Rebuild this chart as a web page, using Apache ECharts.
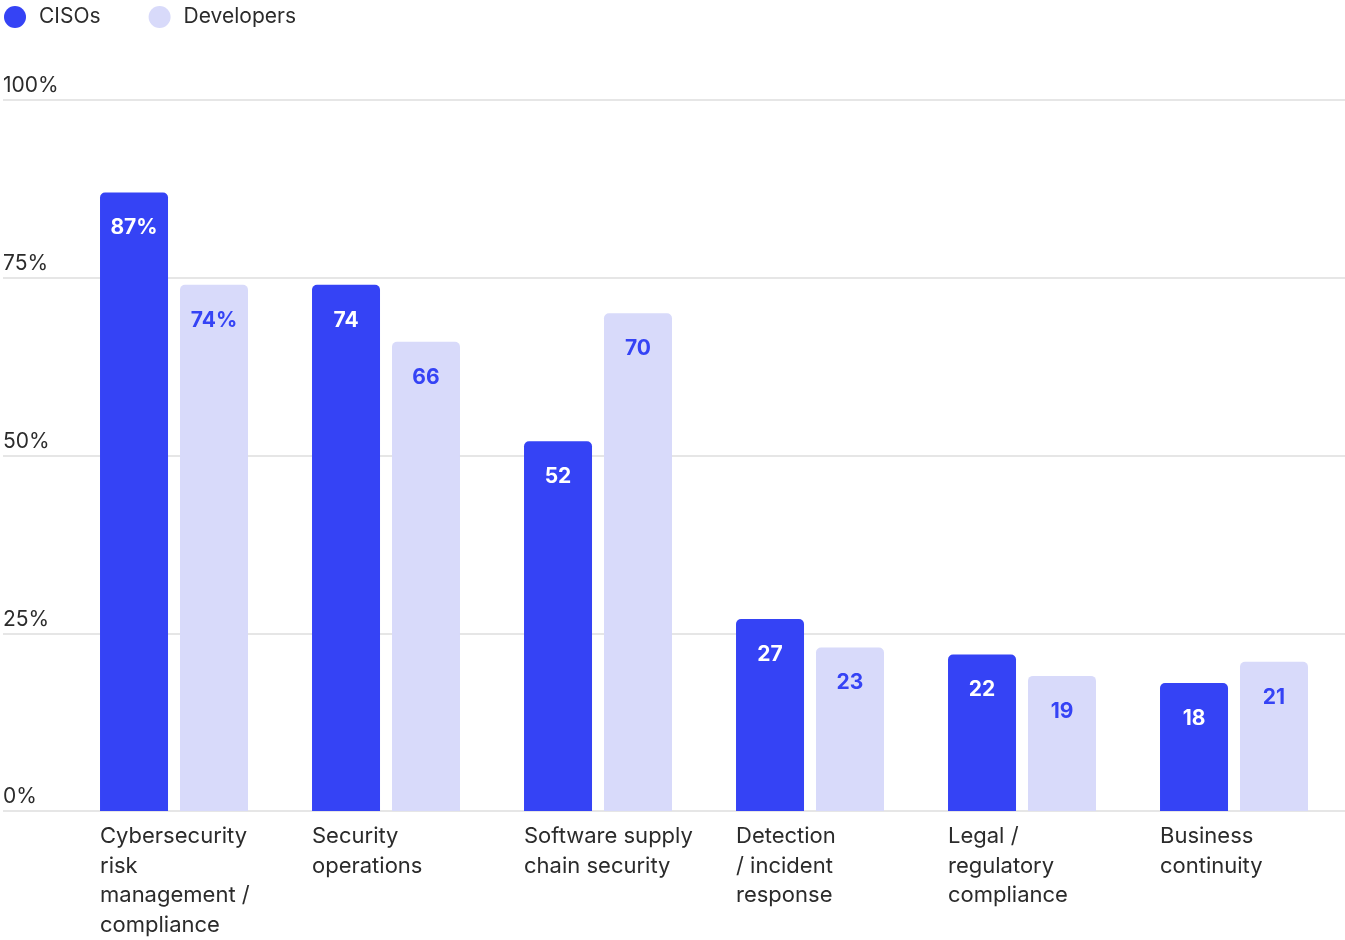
<!DOCTYPE html>
<html>
<head>
<meta charset="utf-8">
<script src="https://cdn.jsdelivr.net/npm/echarts@6/dist/echarts.min.js"></script>
<style>
html,body{margin:0;padding:0;background:#fff;}
#chart{width:1345px;height:940px;}
</style>
</head>
<body>
<div id="chart"></div>
<script>
const categories = [
  "Cybersecurity\nrisk\nmanagement /\ncompliance",
  "Security\noperations",
  "Software supply\nchain security",
  "Detection\n/ incident\nresponse",
  "Legal /\nregulatory\ncompliance",
  "Business\ncontinuity"
];
const cisos = [87, 74, 52, 27, 22, 18];
const developers = [74, 66, 70, 23, 19, 21];
const seriesNames = ["CISOs", "Developers"];
const yTicks = [0, 25, 50, 75, 100];

const BLUE = '#3543F5';
const LIGHT = '#D8DAFA';
const FONT = 'Inter, "Noto Sans", sans-serif';

const chart = echarts.init(document.getElementById('chart'), null, {renderer: 'canvas'});

const gTop = 100, gBottom = 129;

chart.setOption({
  animation: false,
  textStyle: {fontFamily: FONT},
  legend: {
    left: 4, top: 6, padding: 0,
    icon: 'circle',
    itemWidth: 22, itemHeight: 22,
    itemGap: 48,
    textStyle: {fontSize: 21, color: '#2b2b2b', fontFamily: FONT, padding: [0, 0, 0, 8]},
    data: seriesNames
  },
  grid: [
    {left: 3, right: 0, top: gTop, bottom: gBottom},
    {left: 68, right: 5, top: gTop, bottom: gBottom},
    {left: 100, right: 185, top: gTop, bottom: gBottom}
  ],
  xAxis: [
    {gridIndex: 0, type: 'value', show: false, min: 0, max: 1},
    {gridIndex: 1, type: 'category', data: categories,
      axisLine: {show: false}, axisTick: {show: false}, axisLabel: {show: false}},
    {gridIndex: 2, type: 'category', data: categories, boundaryGap: false,
      axisLine: {show: false}, axisTick: {show: false},
      axisLabel: {align: 'left', verticalAlign: 'top', margin: 14, fontSize: 22, lineHeight: 29.5,
        padding: [4, 0, 0, 0],
        color: '#2b2b2b', fontFamily: FONT, interval: 0}}
  ],
  yAxis: [
    {gridIndex: 0, type: 'value', min: 0, max: 100, interval: 25,
      axisLine: {show: false}, axisTick: {show: false},
      splitLine: {lineStyle: {color: '#dedede', width: 1.5}},
      axisLabel: {inside: true, margin: 0, verticalAlign: 'bottom', fontSize: 21, lineHeight: 22,
        padding: [0, 0, 3, 0], color: '#2b2b2b', fontFamily: FONT,
        formatter: v => yTicks.includes(v) ? v + '%' : ''}},
    {gridIndex: 1, type: 'value', min: 0, max: 100, interval: 25, show: false},
    {gridIndex: 2, type: 'value', min: 0, max: 100, show: false}
  ],
  series: [
    {
      name: seriesNames[0], type: 'bar', xAxisIndex: 1, yAxisIndex: 1,
      data: cisos, barWidth: 68, barGap: '17.6%',
      itemStyle: {color: BLUE, borderRadius: [5, 5, 0, 0]},
      label: {show: true, position: 'insideTop', distance: 25, color: '#fff', fontSize: 21,
        fontWeight: 'bold', fontFamily: FONT,
        formatter: p => p.dataIndex === 0 ? p.value + '%' : String(p.value)},
      z: 3
    },
    {
      name: seriesNames[1], type: 'bar', xAxisIndex: 1, yAxisIndex: 1,
      data: developers, barWidth: 68, barGap: '17.6%',
      itemStyle: {color: LIGHT, borderRadius: [5, 5, 0, 0]},
      label: {show: true, position: 'insideTop', distance: 25, color: BLUE, fontSize: 21,
        fontWeight: 'bold', fontFamily: FONT,
        formatter: p => p.dataIndex === 0 ? p.value + '%' : String(p.value)},
      z: 3
    }
  ]
});
</script>
</body>
</html>
